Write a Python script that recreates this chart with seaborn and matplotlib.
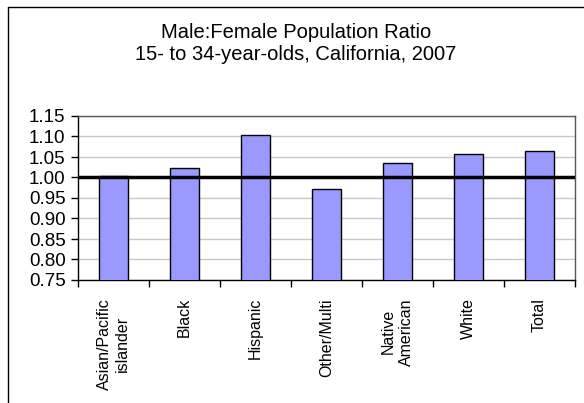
import matplotlib
matplotlib.use("Agg")
import matplotlib.pyplot as plt
from matplotlib.lines import Line2D
import seaborn as sns
import pandas as pd

# Male:Female ratio by race/ethnicity, ages 15-34, California 2007
categories = ["Asian/Pacific\nislander", "Black", "Hispanic", "Other/Multi",
              "Native\nAmerican", "White", "Total"]
ratios = [1.003, 1.024, 1.103, 0.973, 1.036, 1.057, 1.065]
y_ticks = [0.75, 0.80, 0.85, 0.90, 0.95, 1.00, 1.05, 1.10, 1.15]
title_lines = ["Male:Female Population Ratio", "15- to 34-year-olds, California, 2007"]
parity = 1.00

sns.set_theme(style="white")
plt.rcParams["font.family"] = ["Liberation Sans", "DejaVu Sans"]
plt.rcParams["text.color"] = "black"
plt.rcParams["xtick.color"] = "black"
plt.rcParams["ytick.color"] = "black"
plt.rcParams["xtick.labelcolor"] = "black"
plt.rcParams["ytick.labelcolor"] = "black"

W, H = 584, 403
fig = plt.figure(figsize=(W / 100, H / 100), dpi=100)
fig.patch.set_facecolor("white")

# plot area in pixel coordinates
left, right, top, bottom = 78, 575, 116, 280
ax = fig.add_axes([left / W, 1 - bottom / H, (right - left) / W, (bottom - top) / H])

df = pd.DataFrame({"group": categories, "ratio": ratios})
sns.barplot(data=df, x="group", y="ratio", ax=ax, color="#9999FF",
            saturation=1, width=0.41, edgecolor="black", linewidth=1.0, zorder=3)

ax.set_ylim(y_ticks[0], y_ticks[-1])
ax.set_xlim(-0.5, len(categories) - 0.5)
ax.set_yticks(y_ticks)
ax.set_yticklabels([f"{v:.2f}" for v in y_ticks], fontsize=13.5, color="black")
ax.yaxis.grid(True, color="#c8c8c8", linewidth=1.0, zorder=0)
ax.set_axisbelow(True)

# category labels without tick marks; tick marks at category boundaries
ax.set_xticks(range(len(categories)))
ax.set_xticklabels(categories, rotation=90, fontsize=11.5, va="top", ha="center",
                   multialignment="center", linespacing=1.3, color="black")
ax.tick_params(axis="x", which="major", length=0, pad=13)
ax.set_xticks([i - 0.5 for i in range(len(categories) + 1)], minor=True)
ax.tick_params(axis="x", which="minor", length=5, width=1, color="black",
               direction="out", bottom=True)
ax.tick_params(axis="y", length=5, width=1, color="black", direction="out",
               left=True, pad=4)

ax.set_xlabel("")
ax.set_ylabel("")

for side in ("left", "bottom"):
    ax.spines[side].set_color("black")
    ax.spines[side].set_linewidth(1.0)
for side in ("top", "right"):
    ax.spines[side].set_color("#555555")
    ax.spines[side].set_linewidth(1.0)

# parity reference line
ax.axhline(parity, color="black", linewidth=2.5, zorder=5)

# two-line title
fig.text(296 / W, 1 - 33 / H, title_lines[0], ha="center", va="center",
         fontsize=14.5, color="black")
fig.text(296 / W, 1 - 55 / H, title_lines[1], ha="center", va="center",
         fontsize=14.5, color="black")

# chart area frame (left and top edges)
fig.add_artist(Line2D([7.5 / W, 7.5 / W], [0, 1 - 6.5 / H], transform=fig.transFigure,
                      color="black", linewidth=1.0))
fig.add_artist(Line2D([7.5 / W, 1], [1 - 6.5 / H, 1 - 6.5 / H], transform=fig.transFigure,
                      color="black", linewidth=1.0))

fig.savefig("out.png", dpi=100)
